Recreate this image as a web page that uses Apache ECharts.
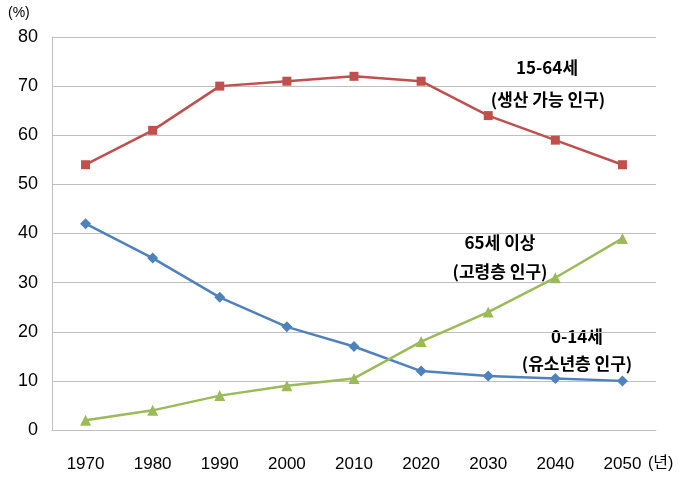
<!DOCTYPE html>
<html>
<head>
<meta charset="utf-8">
<script src="https://cdn.jsdelivr.net/npm/echarts@6/dist/echarts.min.js"></script>
<style>
  html, body { margin: 0; padding: 0; background: #fff; }
</style>
</head>
<body>
<div id="myChart" style="width: 680px; height: 485px;"></div>
<script>
// 데이터
var years = ['1970', '1980', '1990', '2000', '2010', '2020', '2030', '2040', '2050']
var working = [54, 61, 70, 71, 72, 71, 64, 59, 54]     // 15-64세
var young = [42, 35, 27, 21, 17, 12, 11, 10.5, 10]     // 0-14세
var elderly = [2, 4, 7, 9, 10.5, 18, 24, 31, 39]       // 65세 이상
var yTicks = [0, 10, 20, 30, 40, 50, 60, 70, 80]

var font = '"Liberation Sans", "Noto Sans CJK KR", sans-serif'

let myChart = echarts.init(document.getElementById('myChart'))

function line (name, data, color, symbol, size) {
  return {
    name: name,
    type: 'line',
    data: data,
    symbol: symbol,
    symbolSize: size,
    lineStyle: { color: color, width: 2.5 },
    itemStyle: { color: color },
    animation: false
  }
}

// 주석 텍스트 (가운데 정렬)
function label (x, y, text) {
  return {
    type: 'text',
    x: x,
    y: y,
    style: {
      text: text,
      font: 'bold 17px "Noto Sans CJK KR", sans-serif',
      fill: '#000',
      align: 'center',
      verticalAlign: 'middle'
    }
  }
}

myChart.setOption({
  animation: false,
  grid: { left: 52, top: 37, right: 24, bottom: 55 },
  xAxis: {
    type: 'category',
    data: years,
    boundaryGap: true,
    axisLine: { lineStyle: { color: '#bfbfbf', width: 1 } },
    axisTick: { show: false },
    axisLabel: { margin: 26, color: '#000', fontSize: 17, fontFamily: font }
  },
  yAxis: {
    type: 'value',
    min: yTicks[0],
    max: yTicks[yTicks.length - 1],
    interval: 10,
    axisLine: { show: true, lineStyle: { color: '#bfbfbf', width: 1 } },
    axisTick: { show: false },
    splitLine: { lineStyle: { color: '#bfbfbf', width: 1 } },
    axisLabel: { margin: 14, color: '#000', fontSize: 18, fontFamily: font }
  },
  graphic: [
    { type: 'text', left: 8, top: 6, style: { text: '(%)', font: '14px ' + font, fill: '#000' } },
    { type: 'text', left: 648, top: 456, style: { text: '(년)', font: '16px ' + font, fill: '#000' } },
    label(547, 68, '15-64세'),
    label(548, 100, '(생산 가능 인구)'),
    label(500, 243, '65세 이상'),
    label(500, 272, '(고령층 인구)'),
    label(577, 337, '0-14세'),
    label(577, 364, '(유소년층 인구)')
  ],
  series: [
    line('15-64세', working, '#C0504D', 'rect', 9),
    line('0-14세', young, '#4F81BD', 'diamond', 11),
    line('65세 이상', elderly, '#9BBB59', 'triangle', 11)
  ]
})
</script>
</body>
</html>
